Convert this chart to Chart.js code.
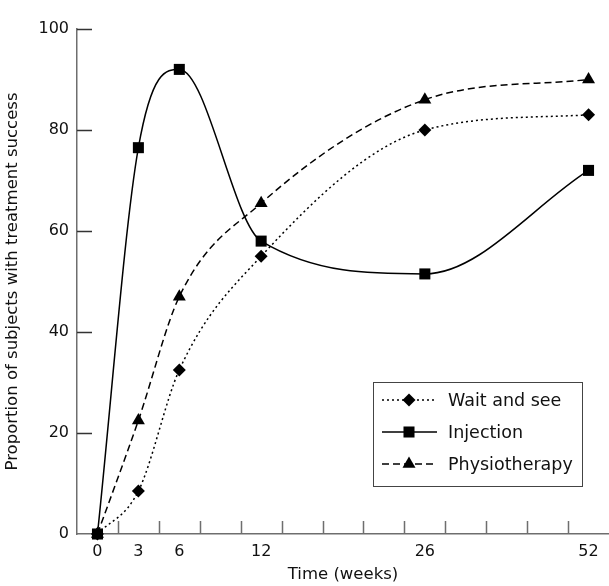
<!DOCTYPE html>
<html>
<head>
<meta charset="utf-8">
<script src="https://cdn.jsdelivr.net/npm/chart.js@4"></script>
<style>
  html, body { margin: 0; padding: 0; background: #fff; }
  #wrap { width: 609px; height: 586px; }
</style>
</head>
<body>
<div id="wrap"><canvas id="chart"></canvas></div>
<script>
// Follow-up times (weeks) and where each sits on the stretched time axis
const weekLabels = ['0', '3', '6', '12', '26', '52'];
const axisPos = [0, 1, 2, 4, 8, 12];

// Proportion of subjects with treatment success (%)
const waitSee = [0, 8.5, 32.5, 55, 80, 83];
const injection = [0, 76.5, 92, 58, 51.5, 72];
const physio = [0, 22.5, 47, 65.5, 86, 90];

const yTicks = [0, 20, 40, 60, 80, 100];

const FONT = 'DejaVu Sans';
const AXIS_GREY = '#6e6e6e';

function points(values) {
  return values.map((v, i) => ({ x: axisPos[i], y: v }));
}

// inward tick marks, like the original figure
const innerTicks = {
  id: 'innerTicks',
  beforeDatasetsDraw(chart) {
    const { ctx, scales: { x, y } } = chart;
    ctx.save();
    ctx.strokeStyle = AXIS_GREY;
    ctx.lineWidth = 1.5;
    ctx.beginPath();
    for (let v = 0.5; v < 12; v += 1) {
      const px = Math.round(x.getPixelForValue(v)) + 0.5;
      ctx.moveTo(px, y.bottom);
      ctx.lineTo(px, y.bottom - 13);
    }
    ctx.stroke();
    ctx.strokeStyle = '#333';
    ctx.beginPath();
    yTicks.slice(1).forEach(v => {
      const py = Math.round(y.getPixelForValue(v)) + 0.5;
      ctx.moveTo(x.left, py);
      ctx.lineTo(x.left + 15, py);
    });
    ctx.stroke();
    ctx.restore();
  }
};

// boxed legend inside the plot, bottom right
const boxLegend = {
  id: 'boxLegend',
  afterDraw(chart) {
    const { ctx, chartArea } = chart;
    const w = 209, h = 104;
    const left = chartArea.right - 27 - w;
    const top = chartArea.bottom - 48 - h;
    ctx.save();
    ctx.strokeStyle = '#444';
    ctx.lineWidth = 1;
    ctx.strokeRect(left + 0.5, top + 0.5, w, h);
    chart.data.datasets.forEach((ds, i) => {
      const cy = top + 18 + i * 32;
      ctx.strokeStyle = ds.borderColor;
      ctx.lineWidth = ds.borderWidth;
      ctx.setLineDash(ds.borderDash || []);
      ctx.beginPath();
      ctx.moveTo(left + 9, cy);
      ctx.lineTo(left + 64, cy);
      ctx.stroke();
      ctx.setLineDash([]);
      ctx.fillStyle = ds.pointBackgroundColor;
      Chart.helpers.drawPoint(ctx, {
        pointStyle: ds.pointStyle,
        radius: ds.pointRadius,
        borderWidth: 0
      }, left + 36, cy);
      ctx.fillStyle = '#111';
      ctx.font = '17.5px "' + FONT + '"';
      ctx.textBaseline = 'middle';
      ctx.fillText(ds.label, left + 75, cy + 1);
    });
    ctx.restore();
  }
};

function series(label, values, style, radius, dash) {
  return {
    label: label,
    data: points(values),
    borderColor: '#000',
    borderWidth: 1.5,
    borderDash: dash,
    pointStyle: style,
    pointRadius: radius,
    pointBorderWidth: 0,
    pointBackgroundColor: '#000',
    cubicInterpolationMode: 'monotone',
    fill: false,
    clip: false
  };
}

new Chart(document.getElementById('chart'), {
  type: 'line',
  data: {
    datasets: [
      series('Wait and see', waitSee, 'rectRot', 6.5, [2, 3]),
      series('Injection', injection, 'rect', 7.8, []),
      series('Physiotherapy', physio, 'triangle', 7.5, [7, 4])
    ]
  },
  options: {
    responsive: true,
    maintainAspectRatio: false,
    animation: false,
    layout: { autoPadding: false, padding: { top: 29, right: 0, left: 0, bottom: 0 } },
    plugins: {
      legend: { display: false },
      tooltip: { enabled: false }
    },
    scales: {
      x: {
        type: 'linear',
        min: -0.5,
        max: 12.5,
        afterBuildTicks: scale => { scale.ticks = axisPos.map(v => ({ value: v })); },
        afterFit: scale => {
          scale.height = 52;
          scale.paddingLeft = 0;
          scale.paddingRight = 0;
        },
        grid: { display: false, drawTicks: false },
        border: { color: AXIS_GREY, width: 1.5 },
        ticks: {
          autoSkip: false,
          maxRotation: 0,
          padding: 8,
          color: '#111',
          font: { family: FONT, size: 16 },
          callback: (v, i) => weekLabels[i]
        },
        title: {
          display: true,
          text: 'Time (weeks)',
          color: '#111',
          font: { family: FONT, size: 16.5 },
          padding: { top: 0, bottom: 1 }
        }
      },
      y: {
        min: 0,
        max: 100,
        afterBuildTicks: scale => { scale.ticks = yTicks.map(v => ({ value: v })); },
        afterFit: scale => {
          scale.width = 77;
          scale.paddingTop = 0;
          scale.paddingBottom = 0;
        },
        grid: { display: false, drawTicks: false },
        border: { color: AXIS_GREY, width: 1.5 },
        ticks: {
          padding: 8,
          color: '#111',
          font: { family: FONT, size: 16 }
        },
        title: {
          display: true,
          text: 'Proportion of subjects with treatment success',
          color: '#111',
          font: { family: FONT, size: 16.5 },
          padding: { top: 3, bottom: 0 }
        }
      }
    }
  },
  plugins: [innerTicks, boxLegend]
});
</script>
</body>
</html>
